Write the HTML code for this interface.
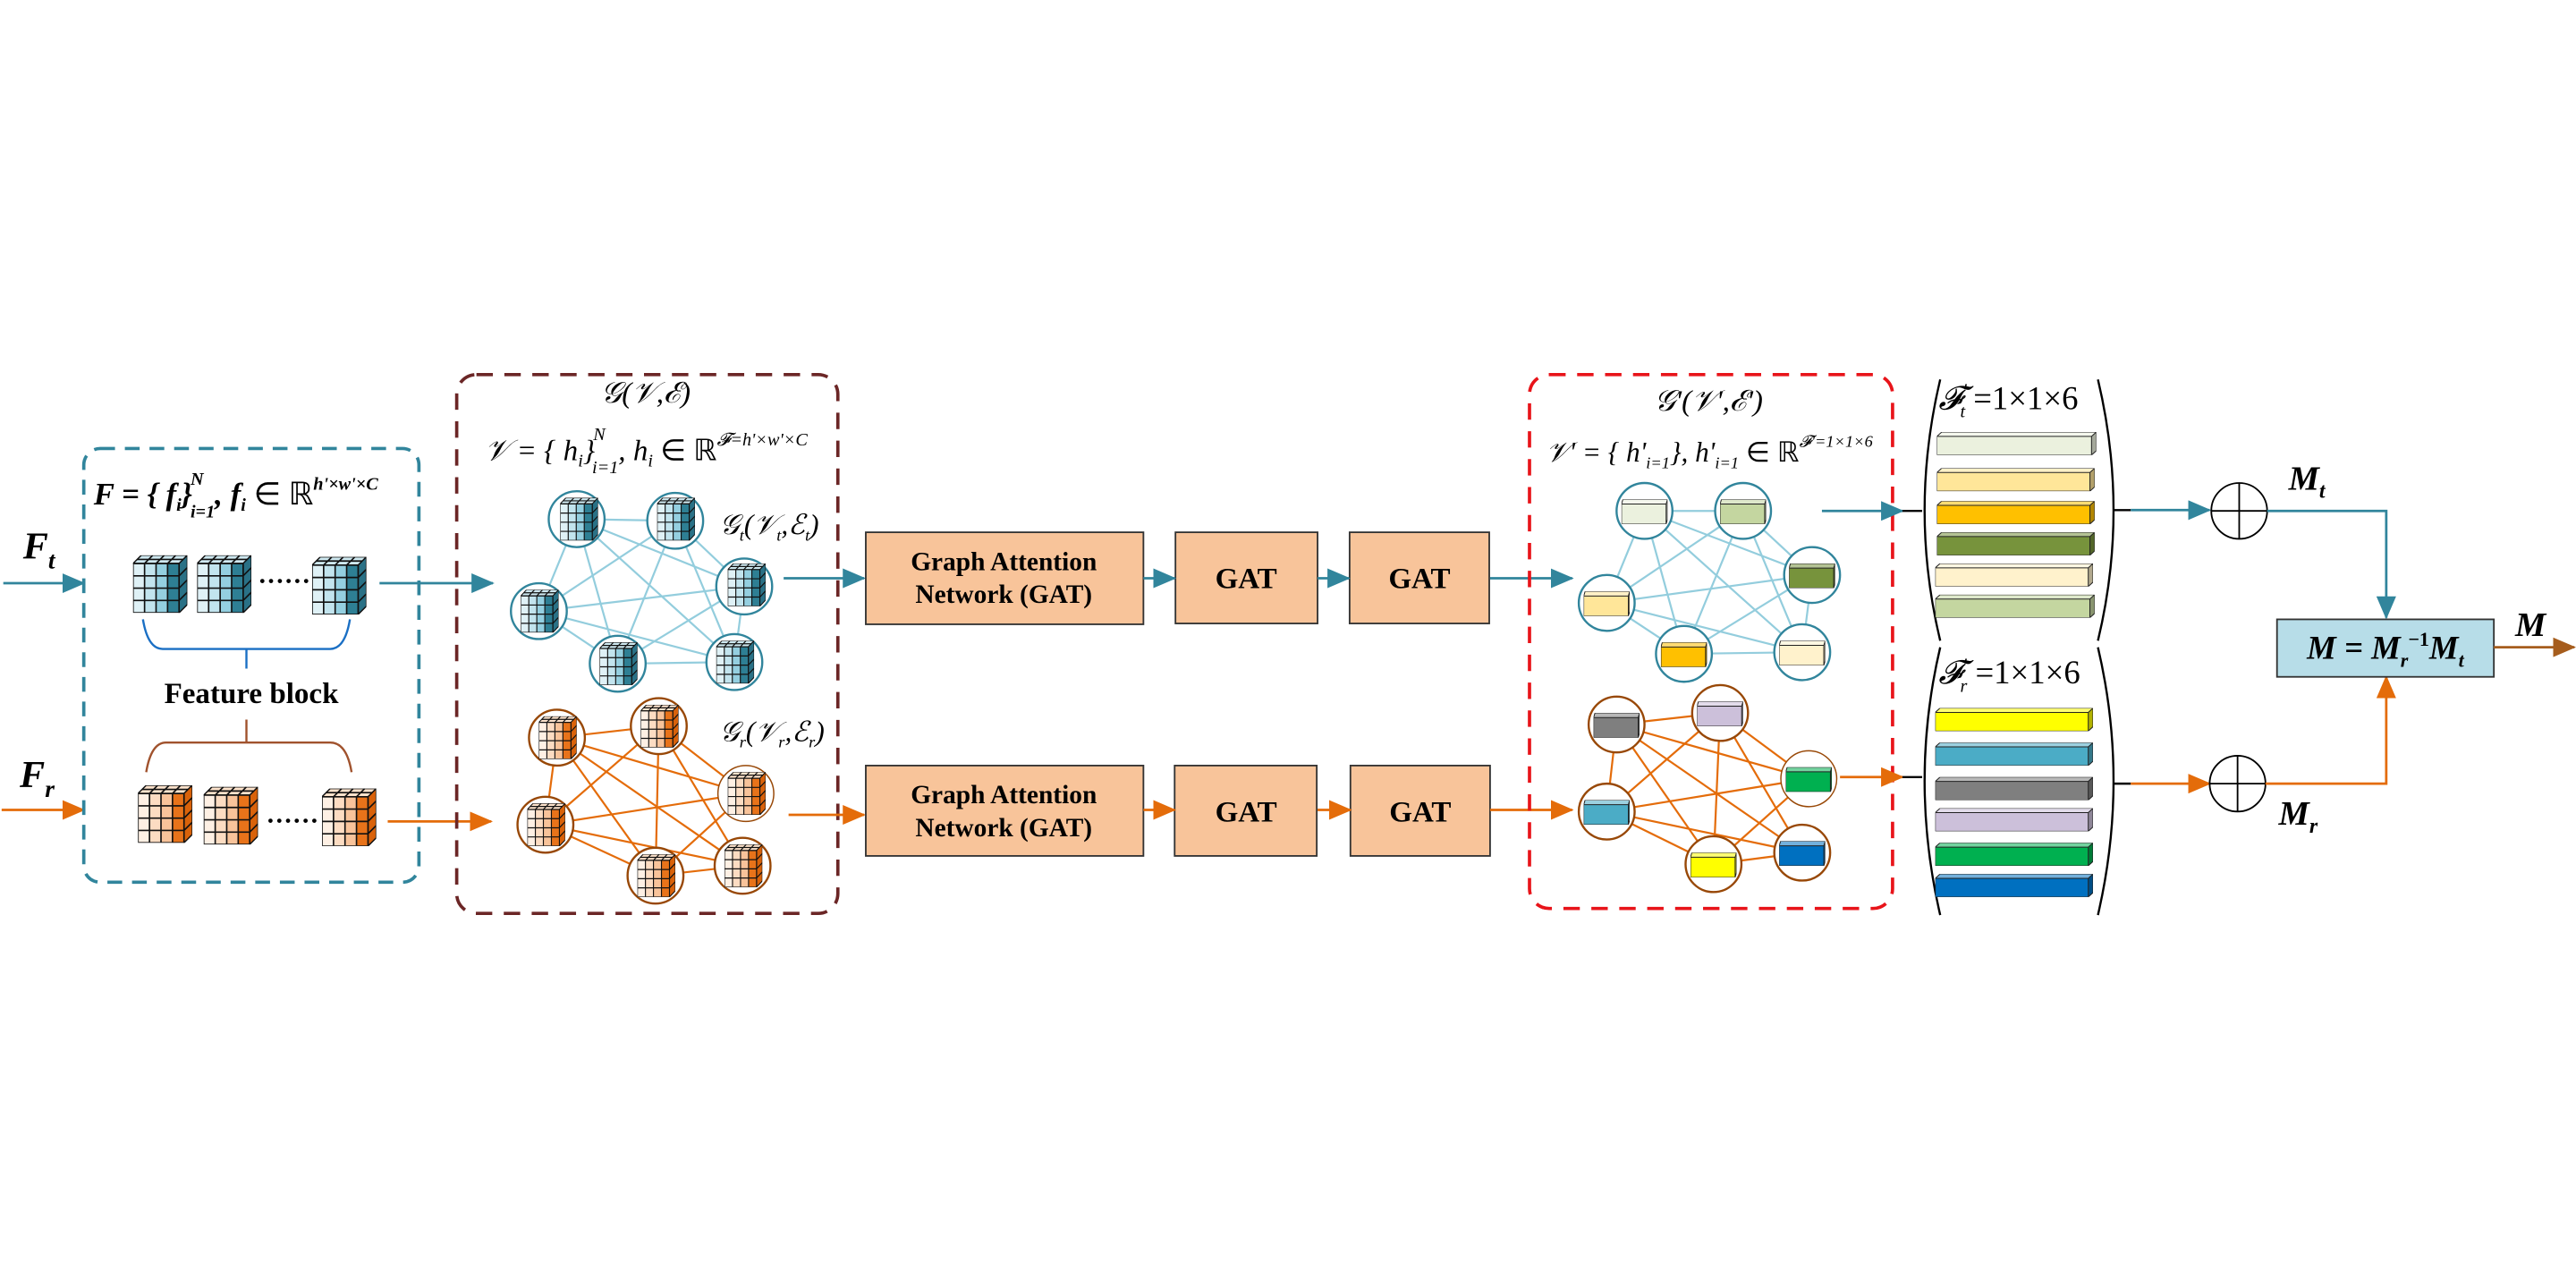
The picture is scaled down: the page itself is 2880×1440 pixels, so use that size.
<!DOCTYPE html>
<html><head><meta charset="utf-8"><style>
html,body{margin:0;padding:0;background:#fff;}
svg{display:block;}
text{font-family:"Liberation Serif",serif;fill:#000;}
.m{font-style:italic;}
.b{font-weight:bold;}
</style></head><body>
<svg width="2880" height="1440" viewBox="0 0 1568 784" xmlns="http://www.w3.org/2000/svg">
<defs>
<marker id="aT" markerUnits="userSpaceOnUse" markerWidth="14" markerHeight="12" refX="13" refY="6" orient="auto"><path d="M0,0 L14,6 L0,12 z" fill="#31859c"/></marker>
<marker id="aO" markerUnits="userSpaceOnUse" markerWidth="14" markerHeight="12" refX="13" refY="6" orient="auto"><path d="M0,0 L14,6 L0,12 z" fill="#e46c0a"/></marker>
<marker id="aB" markerUnits="userSpaceOnUse" markerWidth="14" markerHeight="12" refX="13" refY="6" orient="auto"><path d="M0,0 L14,6 L0,12 z" fill="#a65d1d"/></marker>
<symbol id="cb" viewBox="0 0 33 35" preserveAspectRatio="none">
<polygon points="0,5 5,0 33,0 28,5" fill="#cfe9f1" stroke="#111" stroke-width="0.8"/>
<polygon points="28,5 33,0 33,30 28,35" fill="#2a7186" stroke="#111" stroke-width="0.8"/>
<rect x="0" y="5" width="7" height="30" fill="#dff1f6"/><rect x="7" y="5" width="7" height="30" fill="#c2e4ee"/>
<rect x="14" y="5" width="7" height="30" fill="#94cfe0"/><rect x="21" y="5" width="7" height="30" fill="#2e7f94"/>
<path d="M0,5 H28 V35 H0 Z M7,5 V35 M14,5 V35 M21,5 V35 M0,12.5 H28 M0,20 H28 M0,27.5 H28 M12,0 L7,5 M19,0 L14,5 M26,0 L21,5 M2.5,2.5 H30.5 M28,12.5 L33,7.5 M28,20 L33,15 M28,27.5 L33,22.5" fill="none" stroke="#111" stroke-width="0.9"/>
</symbol>
<symbol id="co" viewBox="0 0 33 35" preserveAspectRatio="none">
<polygon points="0,5 5,0 33,0 28,5" fill="#fde3cc" stroke="#111" stroke-width="0.8"/>
<polygon points="28,5 33,0 33,30 28,35" fill="#d9620a" stroke="#111" stroke-width="0.8"/>
<rect x="0" y="5" width="7" height="30" fill="#fef0e4"/><rect x="7" y="5" width="7" height="30" fill="#fcdcc2"/>
<rect x="14" y="5" width="7" height="30" fill="#f8c39a"/><rect x="21" y="5" width="7" height="30" fill="#e8731a"/>
<path d="M0,5 H28 V35 H0 Z M7,5 V35 M14,5 V35 M21,5 V35 M0,12.5 H28 M0,20 H28 M0,27.5 H28 M12,0 L7,5 M19,0 L14,5 M26,0 L21,5 M2.5,2.5 H30.5 M28,12.5 L33,7.5 M28,20 L33,15 M28,27.5 L33,22.5" fill="none" stroke="#111" stroke-width="0.9"/>
</symbol>
<symbol id="bar" viewBox="0 0 100 16" preserveAspectRatio="none">
<rect x="0" y="3" width="97" height="13" fill="currentColor"/>
<polygon points="0,3 3,0 100,0 97,3" fill="currentColor"/>
<polygon points="0,3 3,0 100,0 97,3" fill="#fff" fill-opacity="0.45"/>
<polygon points="97,3 100,0 100,13 97,16" fill="currentColor"/>
<polygon points="97,3 100,0 100,13 97,16" fill="#000" fill-opacity="0.3"/>
<path d="M0,3 H97 V16 H0 Z M0,3 L3,0 H100 V13 L97,16 M97,3 L100,0" fill="none" stroke="#222" stroke-width="1" vector-effect="non-scaling-stroke"/>
</symbol>
</defs>

<text x="14" y="340" class="m b" font-size="23">F<tspan font-size="15" dy="6">t</tspan></text>
<line x1="2" y1="355" x2="51" y2="355" stroke="#31859c" stroke-width="1.5" marker-end="url(#aT)"/>
<text x="12" y="479" class="m b" font-size="23">F<tspan font-size="15" dy="6">r</tspan></text>
<line x1="1" y1="493" x2="51" y2="493" stroke="#e46c0a" stroke-width="1.5" marker-end="url(#aO)"/>

<rect x="51" y="273" width="204" height="264" rx="10" fill="none" stroke="#31859c" stroke-width="2" stroke-dasharray="9,6"/>
<text x="57" y="307" class="m b" font-size="19">F = {<tspan> f</tspan><tspan font-size="11" dy="4">i</tspan><tspan dy="-4">}</tspan><tspan font-size="11" dx="-1" dy="-12">N</tspan><tspan font-size="11" dx="-8" dy="20">i=1</tspan><tspan dy="-8">, f</tspan><tspan font-size="11" dy="4">i</tspan><tspan dy="-4" font-style="normal" font-weight="normal"> ∈ ℝ</tspan><tspan font-size="11" dy="-9">h'×w'×C</tspan></text>
<use href="#cb" x="81" y="338" width="33" height="35"/>
<use href="#cb" x="120" y="338" width="33" height="35"/>
<use href="#cb" x="190" y="339" width="33" height="35"/>
<text x="157" y="359" font-size="16" class="b">······</text>
<path d="M87,377 Q90,395 99,395 H201 Q210,395 213,377 M150,395 V407" fill="none" stroke="#1a6fc4" stroke-width="1.3"/>
<text x="153" y="428" font-size="18" class="b" text-anchor="middle">Feature block</text>
<path d="M150,438 V452 M89,470 Q92,452 101,452 H201 Q211,452 214,470" fill="none" stroke="#a0522d" stroke-width="1.3"/>
<use href="#co" x="84" y="478" width="33" height="35"/>
<use href="#co" x="124" y="479" width="33" height="35"/>
<use href="#co" x="196" y="480" width="33" height="35"/>
<text x="162" y="505" font-size="16" class="b">······</text>
<line x1="231" y1="355" x2="300" y2="355" stroke="#31859c" stroke-width="1.5" marker-end="url(#aT)"/>
<line x1="236" y1="500" x2="299" y2="500" stroke="#e46c0a" stroke-width="1.5" marker-end="url(#aO)"/>

<rect x="278" y="228" width="232" height="328" rx="12" fill="none" stroke="#6b2626" stroke-width="2" stroke-dasharray="10,7"/>
<text x="393" y="245" class="m" font-size="18" text-anchor="middle">𝒢(𝒱,ℰ)</text>
<text x="295" y="280" class="m" font-size="18">𝒱 = {<tspan> h</tspan><tspan font-size="11" dy="4">i</tspan><tspan dy="-4">}</tspan><tspan font-size="11" dx="-1" dy="-12">N</tspan><tspan font-size="11" dx="-8" dy="20">i=1</tspan><tspan dy="-8">, h</tspan><tspan font-size="11" dy="4">i</tspan><tspan dy="-4" font-style="normal"> ∈ ℝ</tspan><tspan font-size="11" dy="-9">𝓕=h'×w'×C</tspan></text>
<g stroke="#93cddd" stroke-width="1.2">
<line x1="351" y1="316" x2="411" y2="317"/><line x1="351" y1="316" x2="328" y2="372"/><line x1="351" y1="316" x2="376" y2="404"/>
<line x1="351" y1="316" x2="453" y2="357"/><line x1="351" y1="316" x2="447" y2="403"/><line x1="411" y1="317" x2="328" y2="372"/>
<line x1="411" y1="317" x2="376" y2="404"/><line x1="411" y1="317" x2="453" y2="357"/><line x1="411" y1="317" x2="447" y2="403"/>
<line x1="328" y1="372" x2="453" y2="357"/><line x1="328" y1="372" x2="447" y2="403"/><line x1="328" y1="372" x2="376" y2="404"/>
<line x1="453" y1="357" x2="376" y2="404"/><line x1="453" y1="357" x2="447" y2="403"/><line x1="376" y1="404" x2="447" y2="403"/>
</g>
<g fill="#fff" stroke="#31859c" stroke-width="1.3">
<ellipse cx="351" cy="316" rx="17" ry="17"/><ellipse cx="411" cy="317" rx="17" ry="17"/><ellipse cx="453" cy="357" rx="17" ry="17"/>
<ellipse cx="328" cy="372" rx="17" ry="17"/><ellipse cx="376" cy="404" rx="17" ry="17"/><ellipse cx="447" cy="403" rx="17" ry="17"/>
</g>
<use href="#cb" x="341" y="303" width="23" height="26"/><use href="#cb" x="400" y="303" width="23" height="26"/>
<use href="#cb" x="443" y="343" width="23" height="26"/><use href="#cb" x="317" y="359" width="23" height="26"/>
<use href="#cb" x="365" y="391" width="23" height="26"/><use href="#cb" x="436" y="390" width="23" height="26"/>
<text x="438" y="325" class="m" font-size="17">𝒢<tspan font-size="10" dy="4">t</tspan><tspan dy="-4">(𝒱</tspan><tspan font-size="10" dy="4">t</tspan><tspan dy="-4">,ℰ</tspan><tspan font-size="10" dy="4">t</tspan><tspan dy="-4">)</tspan></text>
<g stroke="#e46c0a" stroke-width="1.2">
<line x1="339" y1="449" x2="401" y2="442"/><line x1="339" y1="449" x2="454" y2="483"/><line x1="339" y1="449" x2="399" y2="533"/>
<line x1="339" y1="449" x2="452" y2="527"/><line x1="339" y1="449" x2="332" y2="502"/><line x1="401" y1="442" x2="332" y2="502"/>
<line x1="401" y1="442" x2="454" y2="483"/><line x1="401" y1="442" x2="399" y2="533"/><line x1="401" y1="442" x2="452" y2="527"/>
<line x1="332" y1="502" x2="454" y2="483"/><line x1="332" y1="502" x2="452" y2="527"/><line x1="332" y1="502" x2="399" y2="533"/>
<line x1="454" y1="483" x2="399" y2="533"/><line x1="399" y1="533" x2="452" y2="527"/>
</g>
<g fill="#fff" stroke="#984807" stroke-width="1.3">
<ellipse cx="339" cy="449" rx="17" ry="17"/><ellipse cx="401" cy="442" rx="17" ry="17"/><ellipse cx="454" cy="483" rx="17" ry="17" stroke-width="0.8"/>
<ellipse cx="332" cy="502" rx="17" ry="17"/><ellipse cx="399" cy="533" rx="17" ry="17"/><ellipse cx="452" cy="527" rx="17" ry="17"/>
</g>
<use href="#co" x="328" y="436" width="23" height="26"/><use href="#co" x="390" y="429" width="23" height="26"/>
<use href="#co" x="443" y="470" width="23" height="26"/><use href="#co" x="321" y="489" width="23" height="26"/>
<use href="#co" x="388" y="520" width="23" height="26"/><use href="#co" x="441" y="514" width="23" height="26"/>
<text x="438" y="451" class="m" font-size="17">𝒢<tspan font-size="10" dy="4">r</tspan><tspan dy="-4">(𝒱</tspan><tspan font-size="10" dy="4">r</tspan><tspan dy="-4">,ℰ</tspan><tspan font-size="10" dy="4">r</tspan><tspan dy="-4">)</tspan></text>
<line x1="477" y1="352" x2="526" y2="352" stroke="#31859c" stroke-width="1.5" marker-end="url(#aT)"/>
<line x1="480" y1="496" x2="526" y2="496" stroke="#e46c0a" stroke-width="1.5" marker-end="url(#aO)"/>

<g fill="#f8c49a" stroke="#333" stroke-width="1">
<rect x="527" y="324" width="169" height="56"/><rect x="715.5" y="324" width="86.5" height="55.5"/><rect x="821.5" y="324" width="85" height="55.5"/>
<rect x="527" y="466" width="169" height="55"/><rect x="715" y="466" width="86.5" height="55"/><rect x="822" y="466" width="85" height="55"/>
</g>
<g font-size="16" class="b" text-anchor="middle">
<text x="611" y="347">Graph Attention</text><text x="611" y="367">Network (GAT)</text>
<text x="611" y="489">Graph Attention</text><text x="611" y="509">Network (GAT)</text>
</g>
<g font-size="18" class="b" text-anchor="middle">
<text x="758.5" y="358">GAT</text><text x="864" y="358">GAT</text>
<text x="758.5" y="500">GAT</text><text x="864.5" y="500">GAT</text>
</g>
<line x1="696" y1="352" x2="715" y2="352" stroke="#31859c" stroke-width="1.5" marker-end="url(#aT)"/>
<line x1="802" y1="352" x2="821" y2="352" stroke="#31859c" stroke-width="1.5" marker-end="url(#aT)"/>
<line x1="907" y1="352" x2="957" y2="352" stroke="#31859c" stroke-width="1.5" marker-end="url(#aT)"/>
<line x1="696" y1="493" x2="715" y2="493" stroke="#e46c0a" stroke-width="1.5" marker-end="url(#aO)"/>
<line x1="802" y1="493" x2="822" y2="493" stroke="#e46c0a" stroke-width="1.5" marker-end="url(#aO)"/>
<line x1="907" y1="493" x2="957" y2="493" stroke="#e46c0a" stroke-width="1.5" marker-end="url(#aO)"/>

<rect x="931" y="228" width="221" height="325" rx="12" fill="none" stroke="#e8141a" stroke-width="2" stroke-dasharray="10,7"/>
<text x="1040" y="250" class="m" font-size="18" text-anchor="middle">𝒢'(𝒱',ℰ')</text>
<text x="941" y="281" class="m" font-size="17">𝒱' = {<tspan> h'</tspan><tspan font-size="10" dy="4">i=1</tspan><tspan dy="-4">}, h'</tspan><tspan font-size="10" dy="4">i=1</tspan><tspan dy="-4" font-style="normal"> ∈ ℝ</tspan><tspan font-size="10" dy="-9">𝓕'=1×1×6</tspan></text>
<g stroke="#93cddd" stroke-width="1.2">
<line x1="1001" y1="311" x2="1061" y2="311"/><line x1="1001" y1="311" x2="978" y2="367"/><line x1="1001" y1="311" x2="1025" y2="398"/>
<line x1="1001" y1="311" x2="1103" y2="350"/><line x1="1001" y1="311" x2="1097" y2="397"/><line x1="1061" y1="311" x2="978" y2="367"/>
<line x1="1061" y1="311" x2="1025" y2="398"/><line x1="1061" y1="311" x2="1103" y2="350"/><line x1="1061" y1="311" x2="1097" y2="397"/>
<line x1="978" y1="367" x2="1103" y2="350"/><line x1="978" y1="367" x2="1097" y2="397"/><line x1="978" y1="367" x2="1025" y2="398"/>
<line x1="1103" y1="350" x2="1025" y2="398"/><line x1="1103" y1="350" x2="1097" y2="397"/><line x1="1025" y1="398" x2="1097" y2="397"/>
</g>
<g fill="#fff" stroke="#31859c" stroke-width="1.3">
<ellipse cx="1001" cy="311" rx="17" ry="17"/><ellipse cx="1061" cy="311" rx="17" ry="17"/><ellipse cx="1103" cy="350" rx="17" ry="17"/>
<ellipse cx="978" cy="367" rx="17" ry="17"/><ellipse cx="1025" cy="398" rx="17" ry="17"/><ellipse cx="1097" cy="397" rx="17" ry="17"/>
</g>
<use href="#bar" x="987" y="304" width="28" height="15" style="color:#ebf1de"/>
<use href="#bar" x="1047" y="304" width="28" height="15" style="color:#c4d6a0"/>
<use href="#bar" x="1089" y="343" width="28" height="15" style="color:#77933c"/>
<use href="#bar" x="964" y="360" width="28" height="15" style="color:#ffe699"/>
<use href="#bar" x="1011" y="391" width="28" height="15" style="color:#ffc000"/>
<use href="#bar" x="1083" y="390" width="28" height="15" style="color:#fff2cc"/>
<g stroke="#e46c0a" stroke-width="1.2">
<line x1="984" y1="441" x2="1047" y2="434"/><line x1="984" y1="441" x2="1101" y2="474"/><line x1="984" y1="441" x2="1043" y2="526"/>
<line x1="984" y1="441" x2="1097" y2="519"/><line x1="984" y1="441" x2="978" y2="494"/><line x1="1047" y1="434" x2="978" y2="494"/>
<line x1="1047" y1="434" x2="1101" y2="474"/><line x1="1047" y1="434" x2="1043" y2="526"/><line x1="1047" y1="434" x2="1097" y2="519"/>
<line x1="978" y1="494" x2="1101" y2="474"/><line x1="978" y1="494" x2="1097" y2="519"/><line x1="978" y1="494" x2="1043" y2="526"/>
<line x1="1101" y1="474" x2="1043" y2="526"/><line x1="1043" y1="526" x2="1097" y2="519"/>
</g>
<g fill="#fff" stroke="#984807" stroke-width="1.3">
<ellipse cx="984" cy="441" rx="17" ry="17"/><ellipse cx="1047" cy="434" rx="17" ry="17"/><ellipse cx="1101" cy="474" rx="17" ry="17" stroke-width="0.8"/>
<ellipse cx="978" cy="494" rx="17" ry="17"/><ellipse cx="1043" cy="526" rx="17" ry="17"/><ellipse cx="1097" cy="519" rx="17" ry="17"/>
</g>
<use href="#bar" x="970" y="434" width="28" height="15" style="color:#7f7f7f"/>
<use href="#bar" x="1033" y="427" width="28" height="15" style="color:#ccc0da"/>
<use href="#bar" x="1087" y="467" width="28" height="15" style="color:#00b050"/>
<use href="#bar" x="964" y="487" width="28" height="15" style="color:#4bacc6"/>
<use href="#bar" x="1029" y="519" width="28" height="15" style="color:#ffff00"/>
<use href="#bar" x="1083" y="512" width="28" height="15" style="color:#0070c0"/>
<line x1="1109" y1="311" x2="1158" y2="311" stroke="#31859c" stroke-width="1.5" marker-end="url(#aT)"/>
<line x1="1158" y1="311" x2="1170" y2="311" stroke="#000" stroke-width="1.3"/>
<line x1="1120" y1="473" x2="1158" y2="473" stroke="#e46c0a" stroke-width="1.5" marker-end="url(#aO)"/>
<line x1="1158" y1="473" x2="1170" y2="473" stroke="#000" stroke-width="1.3"/>

<g fill="none" stroke="#000" stroke-width="1.3">
<path d="M1181,231 Q1162,311 1181,390"/><path d="M1277,231 Q1296,311 1277,390"/>
<path d="M1181,394 Q1162,475 1181,557"/><path d="M1277,394 Q1296,475 1277,557"/>
</g>
<text x="1180" y="249" class="m" font-size="20">𝓕<tspan font-size="11" dy="-8">'</tspan><tspan font-size="11" dx="-4" dy="13">t</tspan><tspan dy="-5" font-style="normal"> =1×1×6</tspan></text>
<text x="1180" y="416" class="m" font-size="20">𝓕<tspan font-size="11" dy="-8">'</tspan><tspan font-size="11" dx="-4" dy="13">r</tspan><tspan dy="-5" font-style="normal"> =1×1×6</tspan></text>
<use href="#bar" x="1179" y="263" width="97" height="14" style="color:#ebf1de"/>
<use href="#bar" x="1179" y="285" width="96" height="14" style="color:#ffe699"/>
<use href="#bar" x="1179" y="305" width="96" height="14" style="color:#ffc000"/>
<use href="#bar" x="1179" y="324" width="96" height="14" style="color:#77933c"/>
<use href="#bar" x="1178" y="343" width="96" height="14" style="color:#fff2cc"/>
<use href="#bar" x="1178" y="362" width="97" height="14" style="color:#c4d6a0"/>
<use href="#bar" x="1178" y="431" width="96" height="14" style="color:#ffff00"/>
<use href="#bar" x="1178" y="452" width="96" height="14" style="color:#4bacc6"/>
<use href="#bar" x="1178" y="473" width="96" height="14" style="color:#7f7f7f"/>
<use href="#bar" x="1178" y="492" width="96" height="14" style="color:#ccc0da"/>
<use href="#bar" x="1178" y="513" width="96" height="14" style="color:#00b050"/>
<use href="#bar" x="1178" y="532" width="96" height="14" style="color:#0070c0"/>

<line x1="1287" y1="310.5" x2="1297" y2="310.5" stroke="#000" stroke-width="1.3"/>
<line x1="1297" y1="310.5" x2="1345" y2="310.5" stroke="#31859c" stroke-width="1.5" marker-end="url(#aT)"/>
<line x1="1287" y1="477" x2="1297" y2="477" stroke="#000" stroke-width="1.3"/>
<line x1="1297" y1="477" x2="1345" y2="477" stroke="#e46c0a" stroke-width="1.5" marker-end="url(#aO)"/>
<g fill="#fff" stroke="#000" stroke-width="1">
<ellipse cx="1363" cy="311" rx="17" ry="17"/><path d="M1346,311 H1380 M1363,294 V328" fill="none"/>
<ellipse cx="1362" cy="477" rx="17" ry="17"/><path d="M1345,477 H1379 M1362,460 V494" fill="none"/>
</g>
<text x="1393" y="298" class="m b" font-size="21">M<tspan font-size="13" dy="5">t</tspan></text>
<text x="1387" y="502" class="m b" font-size="21">M<tspan font-size="13" dy="5">r</tspan></text>
<path d="M1380,311 H1452.5 V376" fill="none" stroke="#31859c" stroke-width="1.5" marker-end="url(#aT)"/>
<path d="M1379,477 H1452.5 V412" fill="none" stroke="#e46c0a" stroke-width="1.5" marker-end="url(#aO)"/>
<rect x="1386" y="377" width="132" height="35" fill="#b7dde8" stroke="#333" stroke-width="1"/>
<text x="1452" y="401" class="m b" font-size="20" text-anchor="middle">M = M<tspan font-size="12" dy="5">r</tspan><tspan font-size="12" dy="-13" font-style="normal">−1</tspan><tspan dy="8">M</tspan><tspan font-size="12" dy="5">t</tspan></text>
<line x1="1518" y1="394" x2="1567" y2="394" stroke="#a65d1d" stroke-width="1.5" marker-end="url(#aB)"/>
<text x="1531" y="387" class="m b" font-size="21">M</text>
</svg>
</body></html>
